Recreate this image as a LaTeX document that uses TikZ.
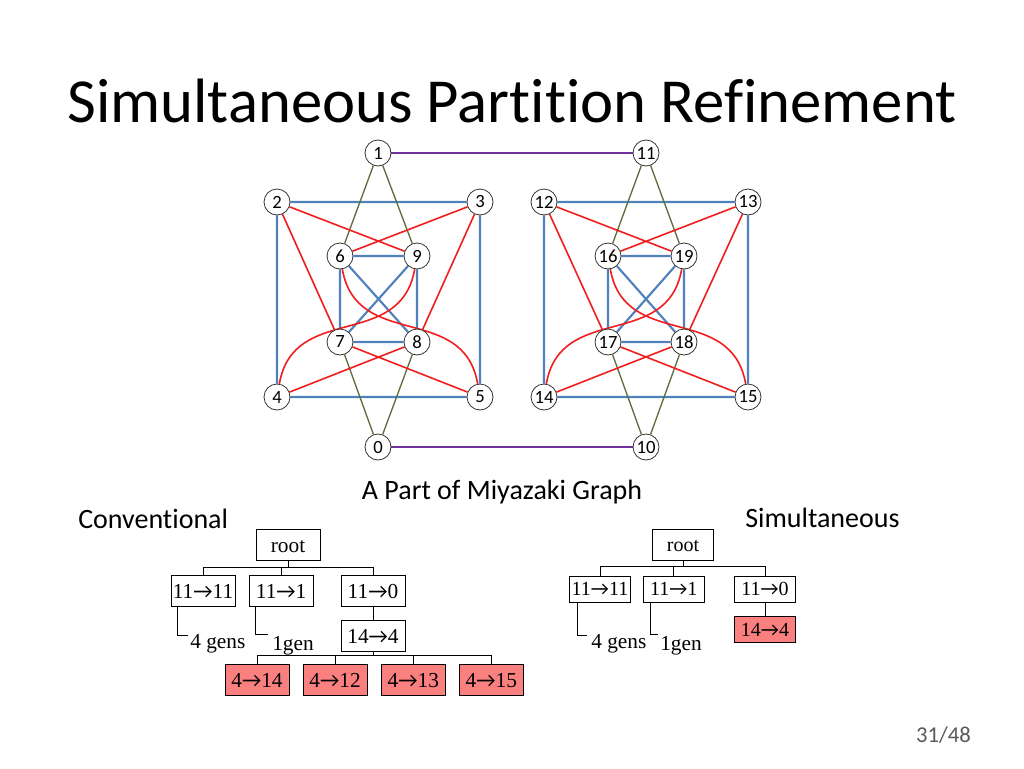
\documentclass[tikz,border=0pt]{standalone}
\usepackage{fontspec}
\setmainfont{Carlito}[Ligatures={NoCommon,NoContextual}]
\newfontfamily\treefont{Liberation Serif}
\newfontfamily\arrowfont{Carlito}
\newcommand\tarrow{{\arrowfont →}}
\usepackage{xcolor}
\definecolor{edgeblue}{RGB}{79,129,189}
\definecolor{edgered}{RGB}{240,30,30}
\definecolor{edgeolive}{RGB}{95,110,60}
\definecolor{edgepurple}{RGB}{112,48,160}
\definecolor{leafred}{RGB}{250,128,128}
\definecolor{pagegray}{RGB}{89,89,89}
\usetikzlibrary{positioning,backgrounds}

\begin{document}
\begin{tikzpicture}[x=0.75pt, y=-0.75pt,
    vtx/.style={circle, draw=black!80, fill=white, line width=0.6pt,
                minimum size=19.5pt, inner sep=0pt, font=\fontsize{14}{14}\selectfont},
    blu/.style={edgeblue, line width=1.6pt},
    rd/.style={edgered, line width=1.2pt},
    olv/.style={edgeolive, line width=1pt},
    prp/.style={edgepurple, line width=1.1pt},
    tbox/.style={rectangle, draw, fill=white, line width=0.6pt,
                 minimum width=48pt, minimum height=23pt, inner sep=0pt,
                 text height=10.8pt, text depth=0pt,
                 font=\treefont\fontsize{16}{16}\selectfont},
    leaf/.style={tbox, fill=leafred},
    sbox/.style={tbox, minimum width=45.75pt, minimum height=19.5pt,
                 text height=10.2pt, font=\treefont\fontsize{15}{15}\selectfont},
    sroot/.style={sbox, minimum height=23pt},
    sleaf/.style={sbox, fill=leafred},
    tline/.style={draw=black, line width=0.6pt},
    gens/.style={anchor=north west, inner sep=0pt, font=\treefont\fontsize{16}{16}\selectfont},
    capt/.style={inner sep=0pt, font=\fontsize{21}{21}\selectfont},
  ]
    \begin{scope}[on background layer]
      \fill[white] (0,0) rectangle (1024,768);
    \end{scope}
    \useasboundingbox (0,0) rectangle (1024,768);

    \node[anchor=base, inner sep=0pt, font=\fontsize{47}{47}\selectfont] (title) at (512,122)
      {Simultaneous Partition Refinement};

    % left half of the graph
    \node[vtx] (v1) at (378,153) {1};
    \node[vtx] (v2) at (277,202) {2};
    \node[vtx] (v3) at (480,202) {3};
    \node[vtx] (v6) at (340,256) {6};
    \node[vtx] (v9) at (417,256) {9};
    \node[vtx] (v7) at (340,342) {7};
    \node[vtx] (v8) at (417,342) {8};
    \node[vtx] (v4) at (277,397) {4};
    \node[vtx] (v5) at (480,397) {5};
    \node[vtx] (v0) at (378,447) {0};

    % right half of the graph
    \node[vtx] (v11) at (646,153) {11};
    \node[vtx] (v12) at (544,202) {12};
    \node[vtx] (v13) at (748,202) {13};
    \node[vtx] (v16) at (608,256) {16};
    \node[vtx] (v19) at (684,256) {19};
    \node[vtx] (v17) at (608,342) {17};
    \node[vtx] (v18) at (684,342) {18};
    \node[vtx] (v14) at (544,397) {14};
    \node[vtx] (v15) at (748,397) {15};
    \node[vtx] (v10) at (646,447) {10};

    \begin{scope}[on background layer]
      \draw[blu] (v2)--(v3)--(v5)--(v4)--(v2) (v6)--(v9)--(v8)--(v7)--(v6) (v6)--(v8) (v9)--(v7);
      \draw[blu] (v12)--(v13)--(v15)--(v14)--(v12) (v16)--(v19)--(v18)--(v17)--(v16) (v16)--(v18) (v19)--(v17);
      \draw[olv] (v1)--(v6) (v1)--(v9) (v0)--(v7) (v0)--(v8);
      \draw[olv] (v11)--(v16) (v11)--(v19) (v10)--(v17) (v10)--(v18);
      \draw[rd] (v2)--(v9) (v2)--(v7) (v3)--(v6) (v3)--(v8) (v4)--(v8) (v5)--(v7);
      \draw[rd] (v4) to[out=80, in=-100, looseness=1.2] (v9);
      \draw[rd] (v5) to[out=100, in=-80, looseness=1.2] (v6);
      \draw[rd] (v12)--(v19) (v12)--(v17) (v13)--(v16) (v13)--(v18) (v14)--(v18) (v15)--(v17);
      \draw[rd] (v14) to[out=80, in=-100, looseness=1.2] (v19);
      \draw[rd] (v15) to[out=100, in=-80, looseness=1.2] (v16);
      \draw[prp] (v1)--(v11) (v0)--(v10);
    \end{scope}

    \node[capt, anchor=base] (graphcap) at (502,499) {A Part of Miyazaki Graph};
    \node[capt, anchor=base west] (convlabel) at (78,528) {Conventional};
    \node[capt, anchor=base west] (simlabel) at (745,527) {Simultaneous};

    % conventional search tree
    \node[tbox] (croot) at (288,545) {root};
    \node[tbox] (c11) at (203,591) {11\tarrow11};
    \node[tbox, right=10pt of c11] (c1) {11\tarrow1};
    \node[tbox] (c0) at (373,591) {11\tarrow0};
    \node[tbox, below=10pt of c0] (c4) {14\tarrow4};
    \node[leaf] (c414) at (257,680) {4\tarrow14};
    \node[leaf, right=10pt of c414] (c412) {4\tarrow12};
    \node[leaf, right=10pt of c412] (c413) {4\tarrow13};
    \node[leaf, right=10pt of c413] (c415) {4\tarrow15};
    \node[gens] (cgen4) at (190,634) {4 gens};
    \node[gens] (cgen1) at (272,636) {1gen};

    \draw[tline] (croot.south) -- ++(0,7) coordinate (cbus);
    \draw[tline] (c11.north) |- (cbus) -| (c0.north);
    \draw[tline] (c1.north) |- (cbus);
    \draw[tline] (c0) -- (c4);
    \draw[tline] (c4.south) -- ++(0,4) coordinate (cbus2);
    \draw[tline] (c414.north) |- (cbus2) -| (c415.north);
    \draw[tline] (c412.north) |- (cbus2);
    \draw[tline] (c413.north) |- (cbus2);
    \draw[tline] ([xshift=-19.5pt]c11.south) |- ([xshift=-1.5pt,yshift=-1pt]cgen4.north west);
    \draw[tline] ([xshift=-19.5pt]c1.south) |- ([xshift=-3pt,yshift=1pt]cgen1.north west);

    % simultaneous search tree
    \node[sroot] (sroot) at (683,545) {root};
    \node[sbox] (s11) at (600,589) {11\tarrow11};
    \node[sbox, right=9pt of s11] (s1) {11\tarrow1};
    \node[sbox] (s0) at (765,589) {11\tarrow0};
    \node[sleaf, below=10.5pt of s0] (s4) {14\tarrow4};
    \node[gens] (sgen4) at (591,634) {4 gens};
    \node[gens] (sgen1) at (660,636) {1gen};

    \draw[tline] (sroot.south) -- ++(0,6) coordinate (sbus);
    \draw[tline] (s11.north) |- (sbus) -| (s0.north);
    \draw[tline] (s1.north) |- (sbus);
    \draw[tline] (s0) -- (s4);
    \draw[tline] ([xshift=-17.25pt]s11.south) |- ([xshift=-3pt,yshift=-1pt]sgen4.north west);
    \draw[tline] ([xshift=-17.25pt]s1.south) |- ([xshift=-1.5pt,yshift=1pt]sgen1.north west);

    \node[anchor=base east, inner sep=0pt, text=pagegray, font=\fontsize{17}{17}\selectfont] (pagenum) at (971,742) {31/48};
  \end{tikzpicture}
\end{document}
